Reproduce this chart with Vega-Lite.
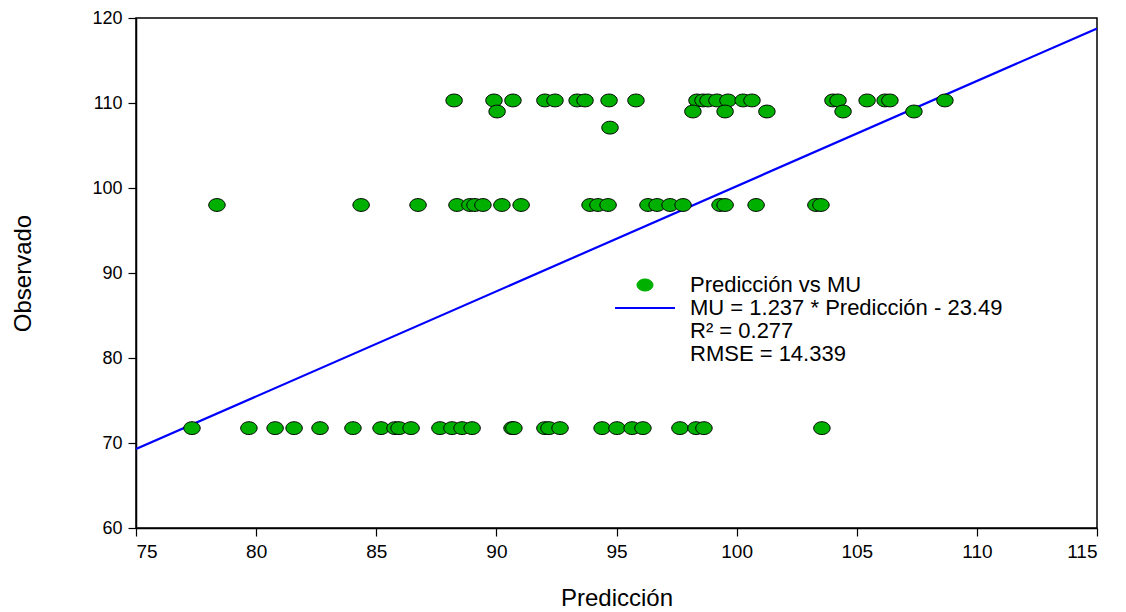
{
  "$schema": "https://vega.github.io/schema/vega-lite/v6.json",
  "width": 961,
  "height": 510,
  "autosize": "none",
  "padding": {"left": 136, "top": 18, "right": 29, "bottom": 84},
  "background": "white",
  "config": {
    "view": {"stroke": "black", "strokeWidth": 1.5},
    "axis": {
      "grid": false,
      "domainColor": "black",
      "domainWidth": 1.5,
      "tickColor": "black",
      "tickWidth": 1.2,
      "tickSize": 8,
      "labelFont": "Liberation Sans",
      "labelFontSize": 18,
      "labelColor": "black",
      "titleFont": "Liberation Sans",
      "titleFontSize": 24,
      "titleFontWeight": "normal",
      "titleColor": "black"
    }
  },
  "datasets": {
    "pts": [
      {"Prediccion": 88.24, "Observado": 110.3, "serie": "Predicción vs MU"},
      {"Prediccion": 89.90, "Observado": 110.3, "serie": "Predicción vs MU"},
      {"Prediccion": 90.69, "Observado": 110.3, "serie": "Predicción vs MU"},
      {"Prediccion": 92.02, "Observado": 110.3, "serie": "Predicción vs MU"},
      {"Prediccion": 92.44, "Observado": 110.3, "serie": "Predicción vs MU"},
      {"Prediccion": 93.36, "Observado": 110.3, "serie": "Predicción vs MU"},
      {"Prediccion": 93.69, "Observado": 110.3, "serie": "Predicción vs MU"},
      {"Prediccion": 94.69, "Observado": 110.3, "serie": "Predicción vs MU"},
      {"Prediccion": 95.81, "Observado": 110.3, "serie": "Predicción vs MU"},
      {"Prediccion": 98.35, "Observado": 110.3, "serie": "Predicción vs MU"},
      {"Prediccion": 98.60, "Observado": 110.3, "serie": "Predicción vs MU"},
      {"Prediccion": 98.81, "Observado": 110.3, "serie": "Predicción vs MU"},
      {"Prediccion": 99.18, "Observado": 110.3, "serie": "Predicción vs MU"},
      {"Prediccion": 99.64, "Observado": 110.3, "serie": "Predicción vs MU"},
      {"Prediccion": 100.27, "Observado": 110.3, "serie": "Predicción vs MU"},
      {"Prediccion": 100.64, "Observado": 110.3, "serie": "Predicción vs MU"},
      {"Prediccion": 104.01, "Observado": 110.3, "serie": "Predicción vs MU"},
      {"Prediccion": 104.22, "Observado": 110.3, "serie": "Predicción vs MU"},
      {"Prediccion": 105.43, "Observado": 110.3, "serie": "Predicción vs MU"},
      {"Prediccion": 106.18, "Observado": 110.3, "serie": "Predicción vs MU"},
      {"Prediccion": 106.38, "Observado": 110.3, "serie": "Predicción vs MU"},
      {"Prediccion": 108.67, "Observado": 110.3, "serie": "Predicción vs MU"},
      {"Prediccion": 90.03, "Observado": 109.0, "serie": "Predicción vs MU"},
      {"Prediccion": 98.18, "Observado": 109.0, "serie": "Predicción vs MU"},
      {"Prediccion": 99.52, "Observado": 109.0, "serie": "Predicción vs MU"},
      {"Prediccion": 101.26, "Observado": 109.0, "serie": "Predicción vs MU"},
      {"Prediccion": 104.43, "Observado": 109.0, "serie": "Predicción vs MU"},
      {"Prediccion": 107.38, "Observado": 109.0, "serie": "Predicción vs MU"},
      {"Prediccion": 94.73, "Observado": 107.1, "serie": "Predicción vs MU"},
      {"Prediccion": 78.37, "Observado": 98.0, "serie": "Predicción vs MU"},
      {"Prediccion": 84.37, "Observado": 98.0, "serie": "Predicción vs MU"},
      {"Prediccion": 86.74, "Observado": 98.0, "serie": "Predicción vs MU"},
      {"Prediccion": 88.36, "Observado": 98.0, "serie": "Predicción vs MU"},
      {"Prediccion": 88.90, "Observado": 98.0, "serie": "Predicción vs MU"},
      {"Prediccion": 89.11, "Observado": 98.0, "serie": "Predicción vs MU"},
      {"Prediccion": 89.44, "Observado": 98.0, "serie": "Predicción vs MU"},
      {"Prediccion": 90.23, "Observado": 98.0, "serie": "Predicción vs MU"},
      {"Prediccion": 91.03, "Observado": 98.0, "serie": "Predicción vs MU"},
      {"Prediccion": 93.90, "Observado": 98.0, "serie": "Predicción vs MU"},
      {"Prediccion": 94.23, "Observado": 98.0, "serie": "Predicción vs MU"},
      {"Prediccion": 94.65, "Observado": 98.0, "serie": "Predicción vs MU"},
      {"Prediccion": 96.31, "Observado": 98.0, "serie": "Predicción vs MU"},
      {"Prediccion": 96.69, "Observado": 98.0, "serie": "Predicción vs MU"},
      {"Prediccion": 97.23, "Observado": 98.0, "serie": "Predicción vs MU"},
      {"Prediccion": 97.77, "Observado": 98.0, "serie": "Predicción vs MU"},
      {"Prediccion": 99.31, "Observado": 98.0, "serie": "Predicción vs MU"},
      {"Prediccion": 99.52, "Observado": 98.0, "serie": "Predicción vs MU"},
      {"Prediccion": 100.81, "Observado": 98.0, "serie": "Predicción vs MU"},
      {"Prediccion": 103.30, "Observado": 98.0, "serie": "Predicción vs MU"},
      {"Prediccion": 103.51, "Observado": 98.0, "serie": "Predicción vs MU"},
      {"Prediccion": 77.33, "Observado": 71.75, "serie": "Predicción vs MU"},
      {"Prediccion": 79.70, "Observado": 71.75, "serie": "Predicción vs MU"},
      {"Prediccion": 80.79, "Observado": 71.75, "serie": "Predicción vs MU"},
      {"Prediccion": 81.58, "Observado": 71.75, "serie": "Predicción vs MU"},
      {"Prediccion": 82.66, "Observado": 71.75, "serie": "Predicción vs MU"},
      {"Prediccion": 84.03, "Observado": 71.75, "serie": "Predicción vs MU"},
      {"Prediccion": 85.20, "Observado": 71.75, "serie": "Predicción vs MU"},
      {"Prediccion": 85.78, "Observado": 71.75, "serie": "Predicción vs MU"},
      {"Prediccion": 85.95, "Observado": 71.75, "serie": "Predicción vs MU"},
      {"Prediccion": 86.45, "Observado": 71.75, "serie": "Predicción vs MU"},
      {"Prediccion": 87.65, "Observado": 71.75, "serie": "Predicción vs MU"},
      {"Prediccion": 88.15, "Observado": 71.75, "serie": "Predicción vs MU"},
      {"Prediccion": 88.57, "Observado": 71.75, "serie": "Predicción vs MU"},
      {"Prediccion": 88.99, "Observado": 71.75, "serie": "Predicción vs MU"},
      {"Prediccion": 90.65, "Observado": 71.75, "serie": "Predicción vs MU"},
      {"Prediccion": 90.73, "Observado": 71.75, "serie": "Predicción vs MU"},
      {"Prediccion": 92.02, "Observado": 71.75, "serie": "Predicción vs MU"},
      {"Prediccion": 92.19, "Observado": 71.75, "serie": "Predicción vs MU"},
      {"Prediccion": 92.65, "Observado": 71.75, "serie": "Predicción vs MU"},
      {"Prediccion": 94.40, "Observado": 71.75, "serie": "Predicción vs MU"},
      {"Prediccion": 95.02, "Observado": 71.75, "serie": "Predicción vs MU"},
      {"Prediccion": 95.65, "Observado": 71.75, "serie": "Predicción vs MU"},
      {"Prediccion": 96.10, "Observado": 71.75, "serie": "Predicción vs MU"},
      {"Prediccion": 97.64, "Observado": 71.75, "serie": "Predicción vs MU"},
      {"Prediccion": 98.31, "Observado": 71.75, "serie": "Predicción vs MU"},
      {"Prediccion": 98.64, "Observado": 71.75, "serie": "Predicción vs MU"},
      {"Prediccion": 103.55, "Observado": 71.75, "serie": "Predicción vs MU"}
    ],
    "fit": [
      {"Prediccion": 75, "Observado": 69.29, "serie": "MU = 1.237 * Predicción - 23.49"},
      {"Prediccion": 115, "Observado": 118.77, "serie": "MU = 1.237 * Predicción - 23.49"}
    ]
  },
  "encoding": {
    "x": {
      "field": "Prediccion",
      "type": "quantitative",
      "title": "Predicción",
      "scale": {"domain": [75, 115], "nice": false, "zero": false},
      "axis": {"values": [75, 80, 85, 90, 95, 100, 105, 110, 115], "labelFont": "Liberation Sans", "labelFontSize": 19, "labelPadding": 6, "titlePadding": 25}
    },
    "y": {
      "field": "Observado",
      "type": "quantitative",
      "title": "Observado",
      "scale": {"domain": [60, 120], "nice": false, "zero": false},
      "axis": {"values": [60, 70, 80, 90, 100, 110, 120], "labelFont": "Liberation Sans", "labelPadding": 6, "labelFontSize": 18, "titlePadding": 56}
    },
    "color": {
      "field": "serie",
      "type": "nominal",
      "scale": {
        "domain": ["Predicción vs MU", "MU = 1.237 * Predicción - 23.49", "R² = 0.277", "RMSE = 14.339"],
        "range": ["#00b000", "#0000ff", "transparent", "transparent"]
      },
      "legend": {
        "orient": "none",
        "legendX": 498,
        "legendY": 256,
        "title": null,
        "labelFont": "Liberation Sans",
        "labelFontSize": 22,
        "labelColor": "black",
        "labelOffset": 34,
        "labelLimit": 600,
        "symbolSize": 3600,
        "rowPadding": 1,
        "encode": {
          "symbols": {
            "update": {
              "shape": {"signal": "datum.value === 'Predicción vs MU' ? 'M-0.267,0A0.267,0.2 0 1,1 0.267,0A0.267,0.2 0 1,1 -0.267,0Z' : 'M-1,0L1,0'"},
              "fill": {"signal": "datum.value === 'Predicción vs MU' ? '#00b000' : 'transparent'"},
              "stroke": {"signal": "datum.value === 'Predicción vs MU' ? 'black' : (datum.value === 'MU = 1.237 * Predicción - 23.49' ? '#0000ff' : 'transparent')"},
              "strokeWidth": {"signal": "datum.value === 'Predicción vs MU' ? 1 : 2"},
              "size": {"value": 3600},
              "opacity": {"value": 1}
            }
          }
        }
      }
    }
  },
  "layer": [
    {
      "data": {"name": "fit"},
      "mark": {"type": "line", "strokeWidth": 2.2, "clip": true}
    },
    {
      "data": {"name": "pts"},
      "mark": {
        "type": "point",
        "filled": true,
        "stroke": "black",
        "strokeWidth": 1,
        "opacity": 1,
        "size": 270,
        "shape": "M-1,0A1,0.78 0 1,1 1,0A1,0.78 0 1,1 -1,0Z"
      }
    }
  ]
}
